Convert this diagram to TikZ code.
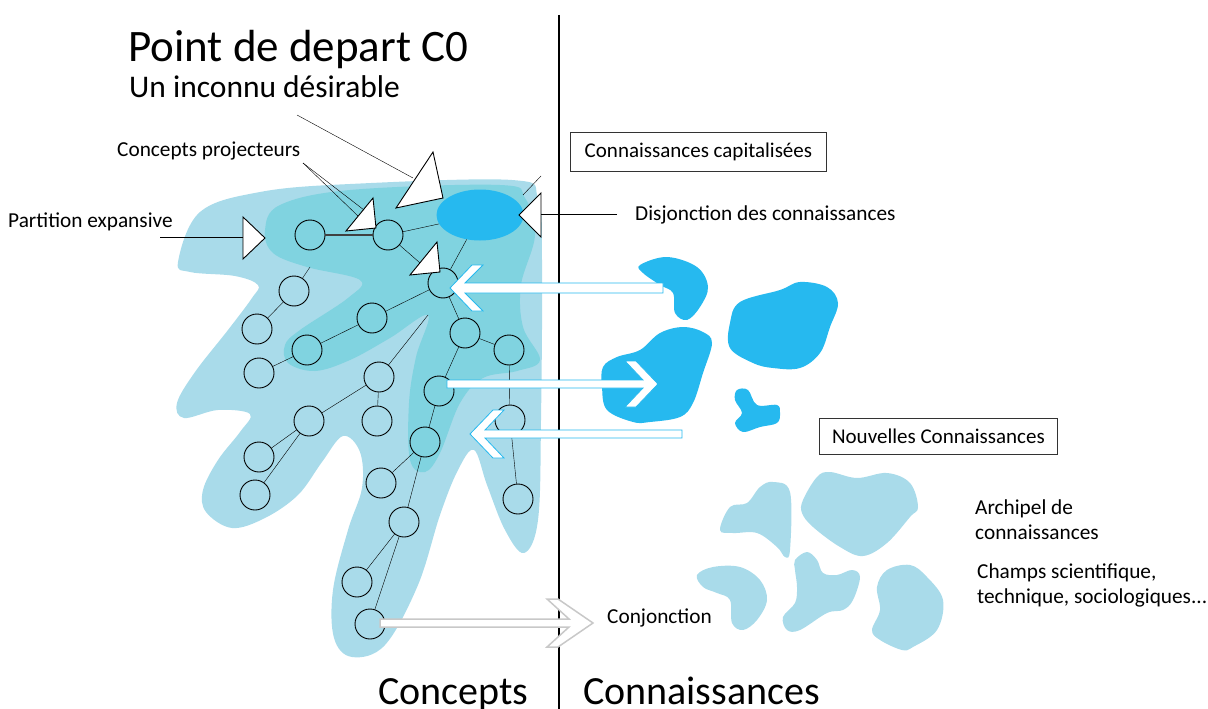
\documentclass[tikz,border=0pt]{standalone}
\usepackage{fontspec}
\setmainfont{Carlito}
\usepackage{tikz}
\usetikzlibrary{shapes.geometric}

\definecolor{bleuclair}{HTML}{A9DBEA}
\definecolor{bleumoyen}{HTML}{80D3E0}
\definecolor{bleuvif}{HTML}{26B9EF}
\definecolor{grisfleche}{HTML}{C8C8C8}

\begin{document}
\begin{tikzpicture}[x=1pt,y=-1pt,
  concept/.style={circle,draw,minimum size=30pt,inner sep=0pt,line width=0.9pt},
  petit/.style={font=\fontsize{21.3}{25}\selectfont,inner sep=0pt},
  grand/.style={font=\fontsize{40}{46}\selectfont,inner sep=0pt},
  pointe/.style={draw,fill=white,line width=0.9pt,line join=miter},
  fleche/.style={draw=bleuvif,fill=white,line width=0.8pt},
  boite/.style={draw=black!80,line width=0.9pt,inner sep=0pt}]

\useasboundingbox (0,0) rectangle (1208,709);

% zones de concepts
\fill[bleuclair] plot[smooth cycle,tension=0.6] coordinates {
  (178,262) (200,212) (260,192) (350,184) (512,180) (538,198) (542,260)
  (541,420) (538,520) (524,553) (505,530) (487,485) (474,450) (458,470)
  (440,515) (418,585) (385,645) (352,657) (334,638) (333,590) (348,530)
  (362,488) (360,452) (343,436) (322,462) (298,495) (265,518) (232,528)
  (206,512) (203,490) (218,460) (240,432) (250,414) (218,410) (184,418)
  (177,403) (195,372) (228,330) (252,298) (258,285) (235,276) (190,272)};
\fill[bleumoyen] plot[smooth cycle,tension=0.6] coordinates {
  (265,230) (280,205) (350,190) (500,185) (525,198) (535,235) (521,285)
  (523,327) (540,360) (517,371) (483,378) (460,403) (440,453) (425,472)
  (410,460) (409,403) (416,357) (428,315) (390,338) (350,360) (315,371)
  (288,363) (285,345) (300,330) (348,298) (360,280) (307,267) (273,253)};

% connaissances capitalisees
\fill[bleuvif] plot[smooth cycle,tension=0.6] coordinates {
  (640,265) (667,257) (697,267) (708,287) (700,307) (687,320) (675,313)
  (673,293) (660,285) (643,273)};
\fill[bleuvif] plot[smooth cycle,tension=0.6] coordinates {
  (603,367) (617,357) (640,350) (660,333) (683,327) (703,332) (712,343)
  (703,373) (693,403) (680,417) (650,422) (633,422) (607,410) (602,387)};
\fill[bleuvif] plot[smooth cycle,tension=0.6] coordinates {
  (740,302) (780,290) (800,282) (827,287) (838,303) (830,327) (820,353)
  (800,368) (773,368) (753,363) (730,348) (730,323)};
\fill[bleuvif] plot[smooth cycle,tension=0.6] coordinates {
  (737,390) (748,390) (757,405) (777,405) (780,413) (777,423) (760,427)
  (743,432) (735,423) (742,413) (735,400)};

% nouvelles connaissances
\fill[bleuclair] plot[smooth cycle,tension=0.6] coordinates {
  (720,530) (730,507) (747,503) (760,487) (773,482) (790,492) (790,550)
  (785,557) (777,547) (757,533) (733,533)};
\fill[bleuclair] plot[smooth cycle,tension=0.6] coordinates {
  (803,500) (817,477) (830,472) (857,478) (887,473) (910,483) (918,507)
  (910,517) (887,543) (863,556) (840,547) (813,527) (802,513)};
\fill[bleuclair] plot[smooth cycle,tension=0.6] coordinates {
  (697,575) (713,567) (740,567) (760,580) (767,600) (757,620) (743,630)
  (732,623) (730,600) (717,593) (703,587)};
\fill[bleuclair] plot[smooth cycle,tension=0.6] coordinates {
  (795,560) (807,552) (817,560) (823,573) (837,575) (852,570) (860,577)
  (853,600) (843,610) (827,613) (800,630) (787,630) (783,617) (795,603)
  (797,587) (795,570)};
\fill[bleuclair] plot[smooth cycle,tension=0.6] coordinates {
  (877,587) (887,570) (910,565) (927,577) (943,600) (937,630) (913,647)
  (902,650) (880,640) (872,630) (880,610)};

% separation
\draw[line width=1.4pt] (559,15) -- (559,709);

% arbre des concepts
\node[ellipse,fill=bleuvif,minimum width=87pt,minimum height=51pt] (disj) at (480,215) {};
\node[concept] (a) at (310,235) {};
\node[concept] (b) at (388,235) {};
\node[concept] (c) at (443,283) {};
\node[concept] (d) at (294,291) {};
\node[concept] (e) at (257,329) {};
\node[concept] (f) at (372,318) {};
\node[concept] (g) at (307,350) {};
\node[concept] (h) at (465,333) {};
\node[concept] (i) at (509,350) {};
\node[concept] (j) at (259,373) {};
\node[concept] (k) at (379,377) {};
\node[concept] (l) at (439,391) {};
\node[concept] (m) at (309,421) {};
\node[concept] (n) at (377,421) {};
\node[concept] (o) at (510,420) {};
\node[concept] (p) at (425,442) {};
\node[concept] (q) at (259,457) {};
\node[concept] (r) at (255,495) {};
\node[concept] (s) at (381,483) {};
\node[concept] (t) at (404,522) {};
\node[concept] (u) at (518,499) {};
\node[concept] (v) at (357,582) {};
\node[concept] (w) at (370,624) {};
\coordinate (dfin) at (310,267);
\coordinate (kfin) at (428,315);

\draw[line width=1.8pt, black!75] (a) -- (b);
\draw (b) -- (disj);
\draw (b) -- (c);
\draw (disj) -- (c);
\draw (c) -- (f);
\draw (f) -- (g);
\draw (c) -- (h);
\draw (h) -- (i);
\draw (h) -- (l);
\draw (l) -- (p);
\draw (p) -- (s);
\draw (p) -- (t);
\draw (t) -- (v);
\draw (t) -- (w);
\draw (i) -- (o);
\draw (o) -- (u);
\draw (d) -- (e);
\draw (d) -- (dfin);
\draw (j) -- (g);
\draw (k) -- (kfin);
\draw (k) -- (m);
\draw (k) -- (n);
\draw (m) -- (q);
\draw (m) -- (r);

% fleches
\coordinate (f1) at (450,288);
\coordinate (f2) at (658,384);
\coordinate (f3) at (470,434);
\coordinate (f4) at (593,623);
\filldraw[fleche,shift={(f1)}] (0,0) -- (22,-23) -- (33,-23) -- (15,-5) -- (213,-5)
  -- (213,5) -- (15,5) -- (33,23) -- (22,23) -- cycle;
\filldraw[fleche,shift={(f2)},xscale=-1] (0,0) -- (22,-23) -- (33,-23) -- (15,-4) -- (211,-4)
  -- (211,4) -- (15,4) -- (33,23) -- (22,23) -- cycle;
\filldraw[fleche,shift={(f3)}] (0,0) -- (23,-24) -- (34,-24) -- (15,-4) -- (212,-4)
  -- (212,4) -- (15,4) -- (34,24) -- (23,24) -- cycle;
\filldraw[fleche,draw=grisfleche,line width=1.5pt,shift={(f4)},xscale=-1] (0,0) -- (35,-24)
  -- (46,-24) -- (24,-4) -- (213,-4) -- (213,4) -- (24,4) -- (46,24) -- (35,24) -- cycle;

% pointeurs
\draw[pointe] (243,217) -- (265,238) -- (243,259) -- cycle;
\draw[pointe] (346,231) -- (373,198) -- (376,228) -- cycle;
\draw[pointe] (396,208) -- (433,152) -- (443,198) -- cycle;
\draw[pointe] (410,275) -- (437,242) -- (440,272) -- cycle;
\draw[pointe] (519,215) -- (541,193) -- (541,237) -- cycle;
\coordinate (pe) at (160,237);
\coordinate (pe2) at (243,237);
\coordinate (cp) at (303,163);
\coordinate (cp1) at (358,216);
\coordinate (cp2) at (364,210);
\coordinate (ui) at (297,115);
\coordinate (ui2) at (413,178);
\coordinate (dc) at (617,214);
\coordinate (dc2) at (541,214);
\coordinate (tr1) at (523,195);
\coordinate (tr2) at (541,176);
\draw (pe) -- (pe2);
\draw (cp) -- (cp1);
\draw (cp) -- (cp2);
\draw (ui) -- (ui2);
\draw (dc) -- (dc2);
\draw (tr1) -- (tr2);

% textes
\node[anchor=base west,font=\fontsize{45}{50}\selectfont,inner sep=0pt] (titre) at (128,62) {Point de depart C0};
\node[anchor=base west,font=\fontsize{31.5}{36}\selectfont,inner sep=0pt] (soustitre) at (129,97) {Un inconnu désirable};
\node[petit,anchor=base west] (projecteurs) at (117,156) {Concepts projecteurs};
\node[petit,anchor=base west] (partition) at (8,227) {Partition expansive};
\node[boite,minimum width=256pt,minimum height=39pt,anchor=north west,font=\fontsize{21}{24}\selectfont] (capital) at (570,132) {Connaissances capitalisées};
\node[petit,anchor=base west] (disjonction) at (635,220) {Disjonction des connaissances};
\node[boite,minimum width=238pt,minimum height=36pt,anchor=north west,font=\fontsize{21}{24}\selectfont] (nouvelles) at (819,418) {Nouvelles Connaissances};
\node[petit,anchor=north west,align=left] (archipel) at (975,500) {Archipel de\\connaissances};
\node[petit,anchor=north west,align=left] (champs) at (977,564) {Champs scientifique,\\technique, sociologiques...};
\node[petit,anchor=base west] (conjonction) at (607,623) {Conjonction};
\node[grand,anchor=base west] (concepts) at (378,704) {Concepts};
\node[grand,anchor=base west] (connaissances) at (583,704) {Connaissances};

\end{tikzpicture}
\end{document}
